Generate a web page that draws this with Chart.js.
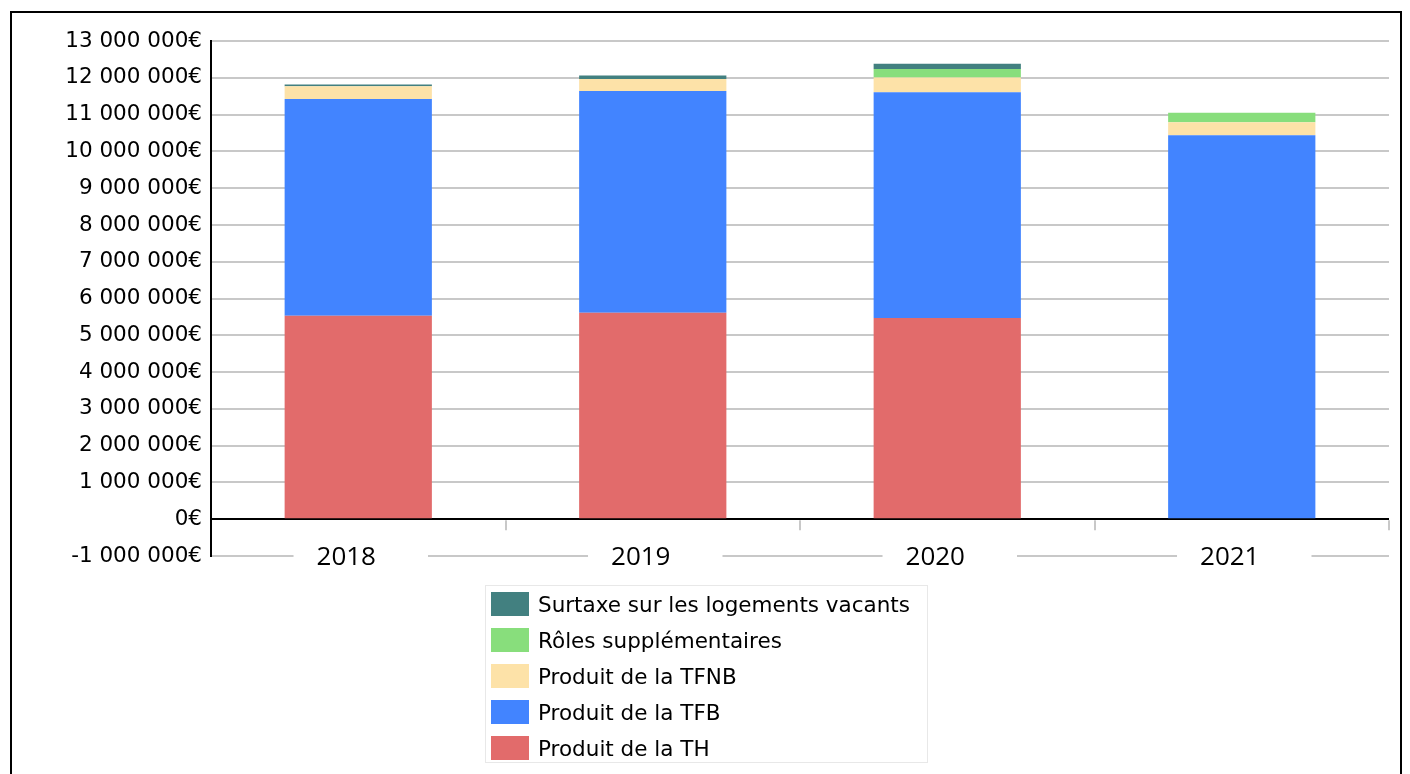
<!DOCTYPE html>
<html>
<head>
<meta charset="utf-8">
<script src="https://cdn.jsdelivr.net/npm/chart.js@4/dist/chart.umd.min.js"></script>
<style>
  html, body { margin: 0; padding: 0; background: #fff; width: 1410px; height: 774px; overflow: hidden; }
  #frame { position: absolute; left: 10px; top: 11px; width: 1392px; height: 800px; border: 2px solid #000; box-sizing: border-box; }
  #c { position: absolute; left: 0; top: 0; }
  #legend { position: absolute; left: 485px; top: 585px; width: 443px; height: 178px; border: 1px solid #e8e8e8; box-sizing: border-box; padding-top: 0px; font-family: "DejaVu Sans", sans-serif; font-size: 21.5px; color: #000; }
  .item { display: flex; align-items: center; height: 36px; }
  .sw { width: 38px; height: 24px; margin-left: 5px; margin-right: 9px; box-sizing: border-box; }
</style>
</head>
<body>
<div id="frame"></div>
<canvas id="c" width="1410" height="774"></canvas>
<div id="legend"></div>
<script>
const categories = ["2018", "2019", "2020", "2021"];
const seriesNames = ["Produit de la TH", "Produit de la TFB", "Produit de la TFNB", "Rôles supplémentaires", "Surtaxe sur les logements vacants"];
const produitTH = [5530000, 5610000, 5470000, 0];
const produitTFB = [5890000, 6030000, 6140000, 10440000];
const produitTFNB = [350000, 330000, 400000, 350000];
const rolesSupp = [0, 0, 230000, 260000];
const surtaxe = [50000, 90000, 140000, 0];
const yMin = -1000000, yMax = 13000000, yStep = 1000000;
const colors = ["#e26b6b", "#4284ff", "#fde2a8", "#88de7c", "#428080"];

function fmt(v) {
  const neg = v < 0;
  const s = Math.abs(Math.round(v)).toString().replace(/\B(?=(\d{3})+(?!\d))/g, " ");
  return (neg ? "-" : "") + s + "€";
}

const boundaryTicks = {
  id: "boundaryTicks",
  afterDatasetsDraw(chart) {
    const x = chart.scales.x, y = chart.scales.y;
    const y0 = y.getPixelForValue(0);
    const ctx = chart.ctx;
    ctx.save();
    ctx.strokeStyle = "#c8c8c8";
    ctx.lineWidth = 2;
    for (let i = 0; i < categories.length; i++) {
      const px = Math.round(x.getPixelForValue(i + 0.5));
      ctx.beginPath();
      ctx.moveTo(px, y0 + 1);
      ctx.lineTo(px, y0 + 11);
      ctx.stroke();
    }
    ctx.restore();
  }
};

const data = {
  labels: categories,
  datasets: [
    { label: seriesNames[0], data: produitTH, backgroundColor: colors[0] },
    { label: seriesNames[1], data: produitTFB, backgroundColor: colors[1] },
    { label: seriesNames[2], data: produitTFNB, backgroundColor: colors[2] },
    { label: seriesNames[3], data: rolesSupp, backgroundColor: colors[3] },
    { label: seriesNames[4], data: surtaxe, backgroundColor: colors[4] }
  ].map(d => Object.assign(d, { barPercentage: 0.5, categoryPercentage: 1.0, borderWidth: 0 }))
};

const chart = new Chart(document.getElementById("c"), {
  type: "bar",
  data,
  plugins: [boundaryTicks],
  options: {
    responsive: false,
    animation: false,
    layout: { padding: { left: 0, top: 41, right: 21, bottom: 198 } },
    plugins: { legend: { display: false }, tooltip: { enabled: false } },
    scales: {
      x: {
        stacked: true,
        offset: true,
        grid: { display: false },
        border: { display: false },
        afterFit: s => { s.height = 20; },
        ticks: {
          z: 1,
          mirror: true,
          padding: -17,
          labelOffset: -12,
          color: "#000",
          font: { family: "'Open Sans', sans-serif", size: 26 },
          showLabelBackdrop: true,
          backdropColor: "#ffffff",
          backdropPadding: { left: 23, right: 52, top: 0, bottom: 0 }
        }
      },
      y: {
        stacked: true,
        min: yMin,
        max: yMax,
        afterFit: s => { s.width = 211; },
        border: { display: true, color: "#000", width: 2 },
        grid: {
          drawTicks: false,
          lineWidth: 2,
          color: c => (c.tick && c.tick.value === 0) ? "#000" : "#c8c8c8"
        },
        ticks: {
          stepSize: yStep,
          padding: 9,
          color: "#000",
          font: { family: "'DejaVu Sans', sans-serif", size: 21.5 },
          callback: v => fmt(v)
        }
      }
    }
  }
});

const legendEl = document.getElementById("legend");
const items = Chart.defaults.plugins.legend.labels.generateLabels(chart).slice().reverse();
items.forEach(it => {
  const row = document.createElement("div");
  row.className = "item";
  const sw = document.createElement("div");
  sw.className = "sw";
  sw.style.background = it.fillStyle;
  const tx = document.createElement("span");
  tx.textContent = it.text;
  row.appendChild(sw);
  row.appendChild(tx);
  legendEl.appendChild(row);
});
</script>
</body>
</html>
